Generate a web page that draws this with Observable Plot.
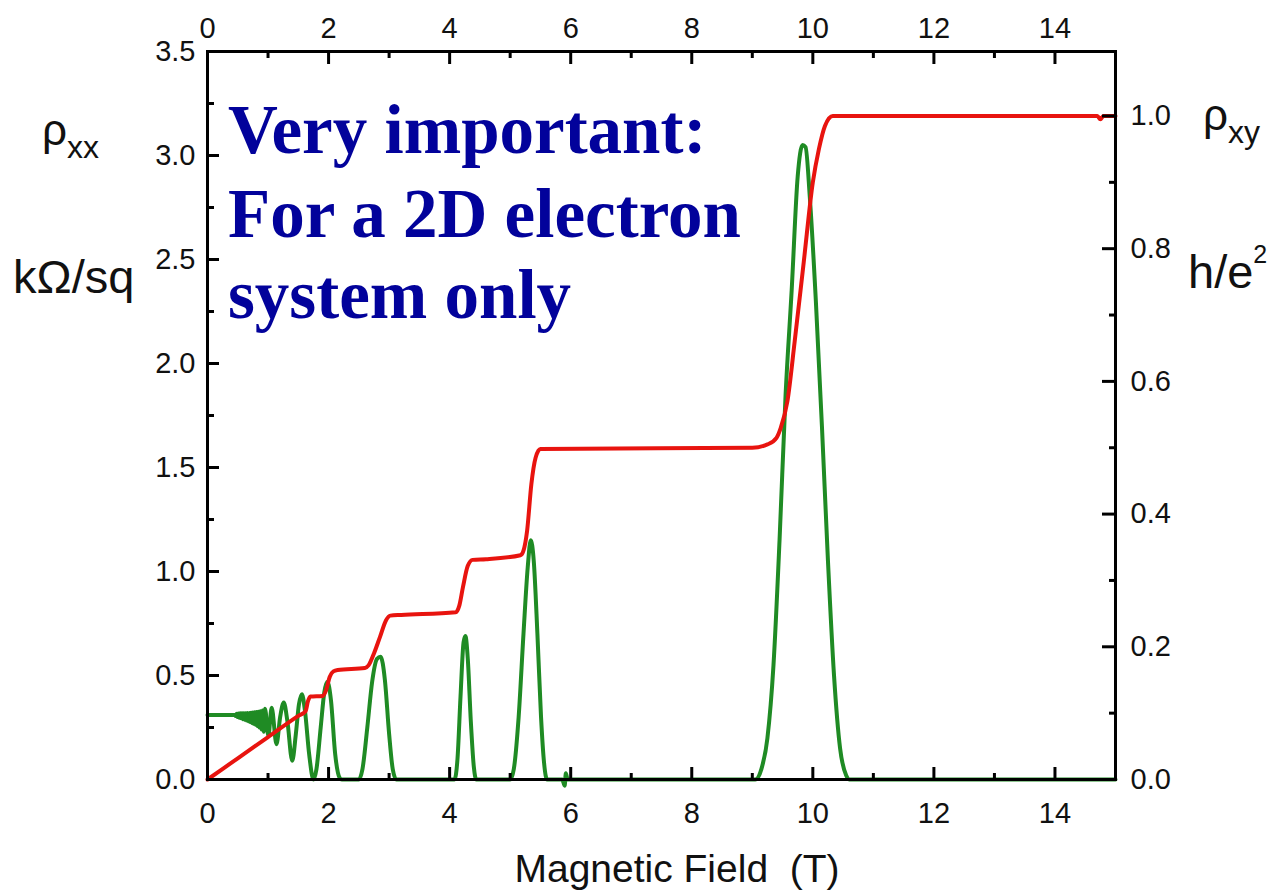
<!DOCTYPE html>
<html><head><meta charset="utf-8">
<script src="https://cdn.jsdelivr.net/npm/d3@7"></script>
<script src="https://cdn.jsdelivr.net/npm/@observablehq/plot@0.6"></script>
<style>
html,body{margin:0;padding:0;background:#fff;}
#wrap{position:relative;width:1278px;height:893px;overflow:hidden;background:#fff;}
#wrap > svg{position:absolute;left:0;top:0;}
.ov text{font-family:"Liberation Sans",Arial,sans-serif;fill:#111;}
.ov text.note{font-family:"Liberation Serif","Times New Roman",serif;font-weight:bold;fill:#02029b;}
</style></head><body><div id="wrap"></div>
<script>
// Magnetic field (T) for rho_xx
const greenB = [
  0, 0.2, 0.45,
  0.465, 0.48, 0.495, 0.51, 0.525, 0.54, 0.555, 0.57, 0.585, 0.60,
  0.615, 0.63, 0.645, 0.66, 0.675, 0.69, 0.705, 0.72, 0.735, 0.75,
  0.765, 0.78, 0.795, 0.81, 0.825, 0.84, 0.857, 0.874, 0.892, 0.91,
  0.93, 0.95, 1.005, 1.06, 1.14, 1.20, 1.26, 1.32, 1.40,
  1.46, 1.51, 1.56, 1.61, 1.68, 1.75,
  1.80, 1.87, 1.93, 1.98, 2.04, 2.11, 2.18, 2.22,
  2.50, 2.56, 2.64, 2.72, 2.80, 2.86, 2.93, 3.00, 3.06, 3.12,
  4.08, 4.13, 4.18, 4.23, 4.26, 4.30, 4.35, 4.40, 4.44,
  5.00, 5.06, 5.14, 5.22, 5.29, 5.34, 5.39, 5.45, 5.51, 5.56, 5.61,
  5.86, 5.90, 5.92, 5.95,
  9.05, 9.15, 9.25, 9.35, 9.45, 9.55, 9.65, 9.75, 9.83, 9.88,
  9.95, 10.05, 10.15, 10.25, 10.35, 10.45, 10.55, 10.60, 15.0
];
// rho_xx (kOhm/sq)
const greenRxx = [
  0.31, 0.31, 0.31,
  0.305, 0.316, 0.300, 0.317, 0.297, 0.318, 0.294, 0.318, 0.290, 0.319,
  0.287, 0.319, 0.284, 0.320, 0.280, 0.320, 0.276, 0.321, 0.272, 0.322,
  0.268, 0.323, 0.263, 0.324, 0.257, 0.326, 0.250, 0.328, 0.240, 0.332,
  0.230, 0.340, 0.210, 0.345, 0.170, 0.300, 0.370, 0.280, 0.090,
  0.220, 0.360, 0.410, 0.330, 0.120, 0.0,
  0.050, 0.250, 0.420, 0.470, 0.380, 0.120, 0.010, 0.0,
  0.0, 0.050, 0.250, 0.470, 0.580, 0.590, 0.480, 0.220, 0.050, 0.0,
  0.0, 0.100, 0.400, 0.660, 0.690, 0.580, 0.280, 0.060, 0.0,
  0.0, 0.050, 0.300, 0.700, 1.020, 1.150, 1.050, 0.700, 0.300, 0.080, 0.0,
  0.0, -0.030, 0.030, 0.0,
  0.0, 0.050, 0.200, 0.550, 1.150, 1.850, 2.350, 2.900, 3.050, 3.040,
  2.800, 2.300, 1.700, 1.050, 0.500, 0.150, 0.020, 0.0, 0.0
];

// Magnetic field (T) for rho_xy
const redB = [0,0.5,1.0,1.5,1.62,1.66,1.70,1.90,1.96,2.02,2.08,2.15,2.60,2.66,2.75,2.85,2.95,3.02,3.20,4.10,4.16,4.22,4.30,4.38,4.60,5.17,5.22,5.28,5.35,5.42,5.50,9.00,9.25,9.40,9.47,9.58,9.70,9.85,10.00,10.10,10.20,10.33,14.70,14.75,14.80,15.0];
// rho_xy (h/e^2)
const redRxy = [0,0.032,0.064,0.096,0.103,0.118,0.125,0.126,0.135,0.155,0.163,0.165,0.168,0.172,0.190,0.215,0.240,0.247,0.248,0.252,0.262,0.290,0.322,0.331,0.332,0.338,0.345,0.375,0.445,0.485,0.498,0.500,0.505,0.515,0.530,0.570,0.660,0.780,0.900,0.950,0.985,1.000,1.000,0.995,1.000,1.000];

// Tick values
const xMajor = [0,2,4,6,8,10,12,14];
const xMinor = [1,3,5,7,9,11,13,15];
const yLeftMajor = [0,0.5,1.0,1.5,2.0,2.5,3.0,3.5];
const yLeftMinor = [0.25,0.75,1.25,1.75,2.25,2.75,3.25];
const yRightMajor = [0,0.2,0.4,0.6,0.8,1.0];
const yRightMinor = [0.1,0.3,0.5,0.7,0.9];

// right axis (h/e^2) expressed on the left scale (kOhm/sq)
const K = 3.19;

const green = greenB.map((b, i) => ({B: b, rxx: greenRxx[i]}));
const red = redB.map((b, i) => ({B: b, rxy: redRxy[i]}));

const tk = {stroke: "#000", strokeWidth: 3, tickFormat: () => "", label: null};
const lb = {tickSize: 0, fontSize: 29, fill: "#111", label: null};

const chart = Plot.plot({
  width: 1278, height: 893,
  marginLeft: 207, marginRight: 163, marginTop: 51, marginBottom: 114,
  style: {fontFamily: '"Liberation Sans", Arial, sans-serif', fontSize: "29px", color: "#000", background: "transparent"},
  x: {domain: [0, 15], label: null},
  y: {domain: [0, 3.5], label: null},
  marks: [
    Plot.line(green, {x: "B", y: "rxx", stroke: "#1f8b24", strokeWidth: 4, curve: "monotone-x"}),
    Plot.line(red, {x: "B", y: d => d.rxy * K, stroke: "#e8140f", strokeWidth: 4, curve: "monotone-x"}),
    Plot.frame({stroke: "#000", strokeWidth: 3}),
    Plot.axisX({anchor: "bottom", ticks: xMajor, tickSize: -12, ...tk}),
    Plot.axisX({anchor: "bottom", ticks: xMinor, tickSize: -6, ...tk}),
    Plot.axisX({anchor: "bottom", ticks: xMajor, tickPadding: 23, tickFormat: d => String(d), ...lb}),
    Plot.axisX({anchor: "top", ticks: xMajor, tickSize: -12, ...tk}),
    Plot.axisX({anchor: "top", ticks: xMinor, tickSize: -6, ...tk}),
    Plot.axisX({anchor: "top", ticks: xMajor, tickPadding: 14, tickFormat: d => String(d), ...lb}),
    Plot.axisY({anchor: "left", ticks: yLeftMajor, tickSize: -12, ...tk}),
    Plot.axisY({anchor: "left", ticks: yLeftMinor, tickSize: -7, ...tk}),
    Plot.axisY({anchor: "left", ticks: yLeftMajor, tickPadding: 12, tickFormat: d => d.toFixed(1), ...lb}),
    Plot.axisY({anchor: "right", ticks: yRightMajor.map(v => v * K), tickSize: -14, ...tk}),
    Plot.axisY({anchor: "right", ticks: yRightMinor.map(v => v * K), tickSize: -7, ...tk}),
    Plot.axisY({anchor: "right", ticks: yRightMajor.map(v => v * K), tickPadding: 15, tickFormat: d => (d / K).toFixed(1), ...lb})
  ]
});

const wrap = document.getElementById("wrap");
wrap.appendChild(chart);

const ov = `<svg class="ov" width="1278" height="893" xmlns="http://www.w3.org/2000/svg">
  <text x="42" y="145" font-size="44">ρ<tspan dy="13" font-size="32">xx</tspan></text>
  <text x="13" y="293" font-size="47">kΩ/sq</text>
  <text x="1203" y="130" font-size="44">ρ<tspan dy="13" font-size="32">xy</tspan></text>
  <text x="1188" y="288" font-size="47">h/e<tspan dy="-25" font-size="25">2</tspan></text>
  <text x="677" y="882" font-size="39" text-anchor="middle" style="white-space:pre">Magnetic Field  (T)</text>
  <text class="note" x="228" y="153" font-size="69">Very important:</text>
  <text class="note" x="228" y="237" font-size="69">For a 2D electron</text>
  <text class="note" x="228" y="318" font-size="69">system only</text>
</svg>`;
wrap.insertAdjacentHTML("beforeend", ov);
</script></body></html>
